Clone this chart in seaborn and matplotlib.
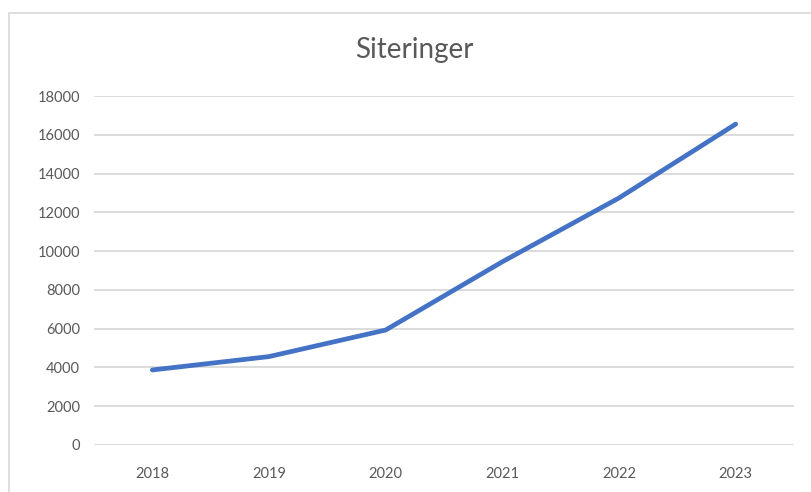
import matplotlib
matplotlib.use("Agg")
import matplotlib.pyplot as plt
import pandas as pd
import seaborn as sns
from matplotlib.patches import Rectangle

sns.set_style("white")
plt.rcParams["font.family"] = ["Lato", "DejaVu Sans"]

years = ["2018", "2019", "2020", "2021", "2022", "2023"]
citations = [3870, 4560, 5930, 9450, 12740, 16550]
yticks = [0, 2000, 4000, 6000, 8000, 10000, 12000, 14000, 16000, 18000]

df = pd.DataFrame({"year": years, "citations": citations})

fig = plt.figure(figsize=(8.11, 4.92), dpi=100)
ax = fig.add_axes([94 / 811, 47 / 492, 700 / 811, 349 / 492])

# chart border like the Excel chart area
fig.patches.append(Rectangle((9 / 811, -0.1), 1.2, (492 - 13) / 492 + 0.1,
                             transform=fig.transFigure, fill=False,
                             edgecolor="#D9D9D9", linewidth=1.2))

sns.lineplot(data=df, x="year", y="citations", ax=ax, color="#4472C4",
             linewidth=3.4, solid_capstyle="round", solid_joinstyle="round")

ax.set_xlim(-0.5, 5.5)
ax.set_ylim(0, 18000)
ax.set_yticks(yticks)
ax.set_yticklabels([str(t) for t in yticks])
ax.yaxis.grid(True, color="#D9D9D9", linewidth=1.3)
ax.set_axisbelow(True)
for s in ax.spines.values():
    s.set_visible(False)
ax.tick_params(axis="both", length=0, labelsize=10.5, labelcolor="#595959")
ax.tick_params(axis="y", pad=10)
ax.tick_params(axis="x", pad=16)
ax.set_xlabel("")
ax.set_ylabel("")

fig.text(414 / 811, 1 - 50 / 492, "Siteringer", ha="center", va="center",
         fontsize=20, color="#595959")

fig.savefig("out.png", dpi=100)
plt.close()
